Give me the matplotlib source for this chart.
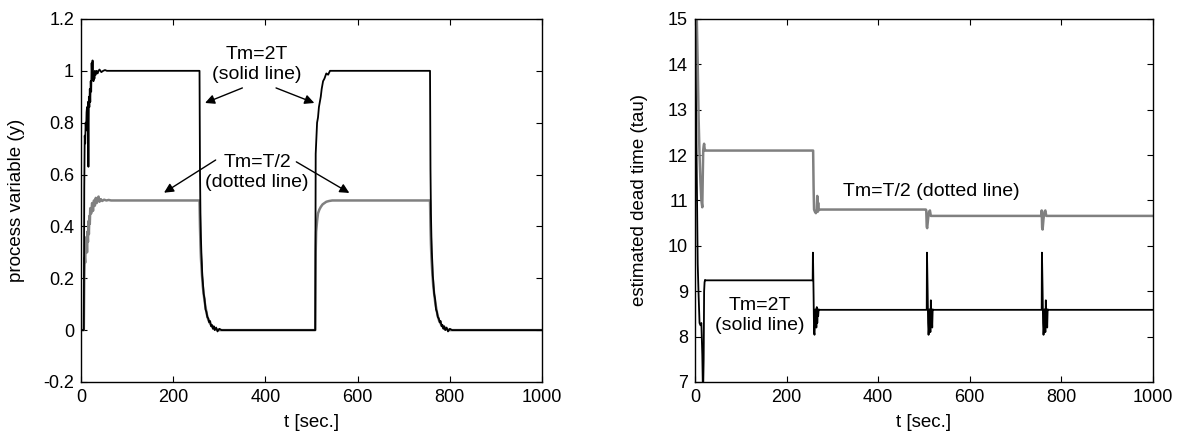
import matplotlib
matplotlib.use('Agg')
from matplotlib import pyplot as plt

plt.rcParams['font.family'] = ['Liberation Sans', 'DejaVu Sans']

# --- left panel: process variable (y) ---
t_solid_l = [0, 6, 7, 8, 9, 10, 11, 12, 13, 14, 15, 16, 17, 18, 19, 20, 21, 22, 23, 24, 25, 26, 27, 28, 29, 30,
             32, 34, 36, 38, 40, 44, 48, 52, 56,
             257, 258, 259, 260, 261, 262, 263, 264, 266, 268, 270, 272, 274, 276, 278, 280, 282, 284, 286, 288, 290,
             293, 296, 300, 305, 310,
             508, 509, 510, 511, 512, 514, 516, 518, 520, 522, 525, 528, 532, 536, 540, 545,
             757, 758, 759, 760, 761, 762, 763, 764, 766, 768, 770, 772, 774, 776, 778, 780, 782, 784, 786, 788, 790,
             793, 796, 800, 805, 810, 1000]
y_solid_l = [0, 0, 0.55, 0.75, 0.72, 0.80, 0.77, 0.84, 0.86, 0.80, 0.88, 0.63, 0.90, 0.86, 0.93, 0.88, 0.96, 0.92,
             1.03, 0.98, 1.04, 0.97, 0.96, 0.99, 0.97, 1.0,
             0.985, 1.0, 0.99, 1.0, 1.005, 0.995, 1.0, 1.003, 1.0,
             1.0, 0.62, 0.45, 0.36, 0.30, 0.26, 0.21, 0.19, 0.14, 0.12, 0.08, 0.07, 0.05, 0.045, 0.03, 0.035, 0.015,
             0.02, 0.005, 0.015, 0.0, 0.01, -0.005, 0.005, 0.0, 0.0,
             0.0, 0.68, 0.72, 0.76, 0.80, 0.82, 0.86, 0.88, 0.90, 0.93, 0.96, 0.97, 0.99, 0.985, 1.0, 1.0,
             1.0, 0.62, 0.45, 0.36, 0.30, 0.26, 0.21, 0.19, 0.14, 0.12, 0.08, 0.07, 0.05, 0.045, 0.03, 0.035, 0.015,
             0.02, 0.005, 0.015, 0.0, 0.01, -0.005, 0.005, 0.0, 0.0, 0.0]

t_dot_l = [0, 6, 7, 8, 9, 10, 11, 12, 13, 14, 15, 16, 17, 18, 19, 20, 22, 24, 26, 28, 30, 32, 34, 36, 38, 40,
           43, 46, 50, 55, 60, 65, 70, 80,
           257, 258, 259, 260, 262, 264, 266, 268, 270, 273, 276, 280, 285, 290, 300,
           508, 509, 510, 512, 514, 517, 520, 524, 528, 532, 538, 545, 560,
           757, 758, 759, 760, 762, 764, 766, 768, 770, 773, 776, 780, 785, 790, 800, 1000]
y_dot_l = [0, 0, 0.20, 0.28, 0.26, 0.33, 0.31, 0.36, 0.30, 0.38, 0.34, 0.42, 0.37, 0.44, 0.41, 0.47,
           0.45, 0.49, 0.46, 0.50, 0.48, 0.51, 0.49, 0.505, 0.515, 0.495,
           0.505, 0.498, 0.503, 0.50, 0.502, 0.50, 0.50, 0.50,
           0.50, 0.40, 0.33, 0.28, 0.22, 0.17, 0.14, 0.11, 0.09, 0.06, 0.04, 0.025, 0.012, 0.005, 0.0,
           0.0, 0.30, 0.38, 0.42, 0.45, 0.465, 0.475, 0.485, 0.49, 0.495, 0.498, 0.50, 0.50,
           0.50, 0.40, 0.33, 0.28, 0.22, 0.17, 0.14, 0.11, 0.09, 0.06, 0.04, 0.025, 0.012, 0.005, 0.0, 0.0]

# --- right panel: estimated dead time (tau) ---
t_solid_r = [0, 3, 6, 8, 10, 12, 14, 16, 17, 18, 19, 20, 21, 22, 23,
             257, 257.5, 258, 259, 260, 261, 262, 263, 264, 265, 266, 267, 268, 269, 270, 272,
             506, 506.5, 507, 508, 509, 510, 511, 512, 513, 514, 515, 516, 517, 518, 519, 521,
             757, 757.5, 758, 759, 760, 761, 762, 763, 764, 765, 766, 767, 768, 769, 770, 772, 1000]
y_solid_r = [15.5, 12.5, 9.6, 8.9, 8.3, 8.25, 8.3, 7.6, 7.0, 6.9, 7.5, 9.0, 9.2, 9.25, 9.24,
             9.24, 9.85, 9.6, 8.9, 8.1, 8.04, 8.3, 8.6, 8.5, 8.2, 8.65, 8.3, 8.55, 8.45, 8.6, 8.59,
             8.59, 9.85, 9.6, 9.0, 8.3, 8.04, 8.2, 8.6, 8.5, 8.1, 8.8, 8.3, 8.5, 8.2, 8.6, 8.59,
             8.59, 9.85, 9.6, 9.0, 8.3, 8.04, 8.2, 8.6, 8.5, 8.1, 8.8, 8.3, 8.5, 8.2, 8.6, 8.59, 8.59]

t_dot_r = [0, 4, 6, 8, 10, 12, 14, 16, 17, 18, 19, 20, 21, 22, 24,
           258, 259, 260, 262, 264, 266, 267, 268, 269, 270, 272,
           504, 505, 506, 507, 509, 511, 513, 515,
           756, 757, 758, 759, 761, 763, 765, 767, 1000]
y_dot_r = [15.5, 15.0, 14.0, 12.8, 12.0, 11.4, 11.0, 10.85, 11.5, 12.1, 12.2, 12.25, 12.15, 12.1, 12.1,
           12.1, 11.3, 10.8, 10.75, 10.72, 10.8, 11.1, 10.75, 10.95, 10.78, 10.8,
           10.8, 10.78, 10.42, 10.39, 10.6, 10.75, 10.78, 10.66,
           10.66, 10.78, 10.4, 10.36, 10.6, 10.75, 10.78, 10.66, 10.66]

x_ticks = [0, 200, 400, 600, 800, 1000]
yl_ticks = [-0.2, 0, 0.2, 0.4, 0.6, 0.8, 1.0, 1.2]
yl_labels = ['-0.2', '0', '0.2', '0.4', '0.6', '0.8', '1', '1.2']
yr_ticks = [7, 8, 9, 10, 11, 12, 13, 14, 15]

gray = '#808080'
fig = plt.figure(figsize=(11.9, 4.36), dpi=100)
ax1 = fig.add_axes([0.0681, 0.1239, 0.3874, 0.8326])
ax2 = fig.add_axes([0.5840, 0.1239, 0.3849, 0.8326])

# оформление осей в стиле matlab
for ax in (ax1, ax2):
    ax.set_xlim(0, 1000)
    ax.set_xticks(x_ticks)
    ax.tick_params(direction='in', top=True, right=True, length=4, width=0.8, labelsize=13, pad=5)
    for s in ax.spines.values():
        s.set_linewidth(1.0)
    ax.set_xlabel('t [sec.]', fontsize=13.5, labelpad=6)

# левый график
ax1.plot(t_dot_l, y_dot_l, color=gray, lw=1.8)
ax1.plot(t_solid_l, y_solid_l, color='k', lw=1.3)
ax1.set_ylim(-0.2, 1.2)
ax1.set_yticks(yl_ticks)
ax1.set_yticklabels(yl_labels)
ax1.set_ylabel('process variable (y)', fontsize=13.5)
ax1.yaxis.set_label_coords(-0.121, 0.5)

arrow = dict(arrowstyle='-|>', color='k', lw=1, mutation_scale=14, shrinkA=0, shrinkB=0)
ax1.text(382, 1.025, 'Tm=2T\n(solid line)', ha='center', va='center', fontsize=14, linespacing=1.25)
ax1.annotate('', xy=(269, 0.876), xytext=(350, 0.934), arrowprops=arrow)
ax1.annotate('', xy=(506, 0.876), xytext=(423, 0.934), arrowprops=arrow)
ax1.text(382, 0.608, 'Tm=T/2\n(dotted line)', ha='center', va='center', fontsize=14, linespacing=1.25)
ax1.annotate('', xy=(180, 0.53), xytext=(292, 0.656), arrowprops=arrow)
ax1.annotate('', xy=(582, 0.529), xytext=(467, 0.649), arrowprops=arrow)

# правый график
ax2.plot(t_dot_r, y_dot_r, color=gray, lw=1.8)
ax2.plot(t_solid_r, y_solid_r, color='k', lw=1.3)
ax2.set_ylim(7, 15)
ax2.set_yticks(yr_ticks)
ax2.set_ylabel('estimated dead time (tau)', fontsize=13.5)
ax2.yaxis.set_label_coords(-0.103, 0.5)
ax2.text(515, 11.2, 'Tm=T/2 (dotted line)', ha='center', va='center', fontsize=14)
ax2.text(142, 8.47, 'Tm=2T\n(solid line)', ha='center', va='center', fontsize=14, linespacing=1.25)

fig.savefig('out.png', dpi=100)
